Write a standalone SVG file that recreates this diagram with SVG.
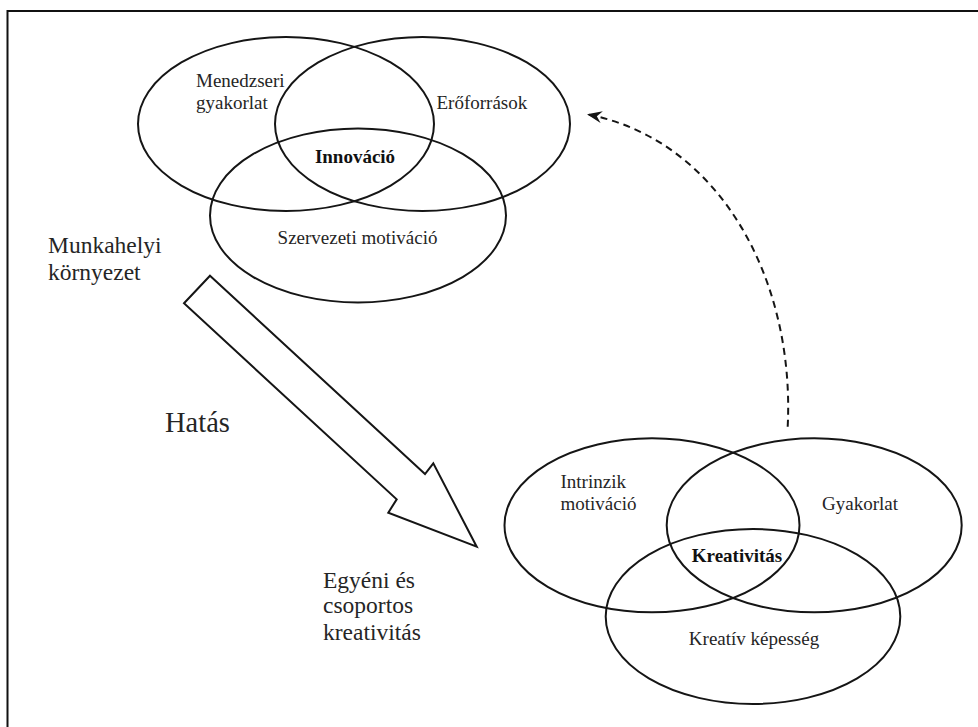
<svg xmlns="http://www.w3.org/2000/svg" width="978" height="727" viewBox="0 0 978 727">
  <style>
    .ring { fill: none; stroke: #151515; stroke-width: 2; }
    .lbl { font-family: "Liberation Serif", "DejaVu Serif", "Times New Roman", serif; fill: #252525; }
    .s19 { font-size: 19px; }
    .s23 { font-size: 23.5px; }
    .b { font-weight: bold; fill: #111; }
  </style>
  <defs>
    <marker id="stealth" viewBox="0 0 15 12" refX="14" refY="6" markerWidth="15" markerHeight="12" markerUnits="userSpaceOnUse" orient="auto">
      <path d="M15,6 L0,0 L5,6 L0,12 Z" fill="#151515"/>
    </marker>
  </defs>

  <rect width="978" height="727" fill="#fff"/>
  <!-- frame: top and left edges only -->
  <path d="M7.5,727 V11 H978" fill="none" stroke="#111" stroke-width="2"/>

  <!-- organisational level: workplace environment -->
  <g id="innovation-venn">
    <ellipse class="ring" cx="286" cy="124" rx="148" ry="87"/>
    <ellipse class="ring" cx="422.5" cy="124" rx="147.5" ry="87"/>
    <ellipse class="ring" cx="358" cy="215.5" rx="148" ry="87"/>
    <text class="lbl s19" font-family="Liberation Serif, serif" x="196" y="87">Menedzseri</text>
    <text class="lbl s19" font-family="Liberation Serif, serif" x="196" y="109">gyakorlat</text>
    <text class="lbl s19" font-family="Liberation Serif, serif" x="436.5" y="109">Erőforrások</text>
    <text class="lbl s19 b" font-family="Liberation Serif, serif" x="355" y="163" text-anchor="middle">Innováció</text>
    <text class="lbl s19" font-family="Liberation Serif, serif" x="357.5" y="244" text-anchor="middle">Szervezeti motiváció</text>
  </g>

  <g id="workplace-label">
    <text class="lbl s23" font-family="Liberation Serif, serif" x="48" y="253">Munkahelyi</text>
    <text class="lbl s23" font-family="Liberation Serif, serif" x="48" y="280">környezet</text>
  </g>

  <!-- individual and group level -->
  <g id="creativity-venn">
    <ellipse class="ring" cx="652" cy="525.3" rx="147.5" ry="87"/>
    <ellipse class="ring" cx="814.2" cy="525.3" rx="147.5" ry="87"/>
    <ellipse class="ring" cx="753" cy="616.5" rx="147.3" ry="87.5"/>
    <text class="lbl s19" font-family="Liberation Serif, serif" x="560.5" y="488">Intrinzik</text>
    <text class="lbl s19" font-family="Liberation Serif, serif" x="560.5" y="510">motiváció</text>
    <text class="lbl s19" font-family="Liberation Serif, serif" x="860" y="510" text-anchor="middle">Gyakorlat</text>
    <text class="lbl s19 b" font-family="Liberation Serif, serif" x="737" y="561.5" text-anchor="middle">Kreativitás</text>
    <text class="lbl s19" font-family="Liberation Serif, serif" x="754" y="645" text-anchor="middle">Kreatív képesség</text>
  </g>

  <g id="individual-label">
    <text class="lbl s23" font-family="Liberation Serif, serif" x="323" y="587.5">Egyéni és</text>
    <text class="lbl s23" font-family="Liberation Serif, serif" x="323" y="613">csoportos</text>
    <text class="lbl s23" font-family="Liberation Serif, serif" x="323" y="640">kreativitás</text>
  </g>

  <g id="connectors">
    <!-- block arrow: influence -->
    <g id="influence-arrow">
      <path d="M210,275.7 L425,474 L433.3,463.3 L476.7,546.7 L388.3,512.7 L396.7,499.3 L184,303.3 Z" fill="#fff" stroke="#151515" stroke-width="2" stroke-linejoin="miter"/>
      <text class="lbl" font-family="Liberation Serif, serif" x="165" y="431.5" style="font-size:28.5px">Hatás</text>
    </g>
    <!-- dashed feedback from creativity to innovation -->
    <path id="feedback" d="M787.7,426.7 C795,280 720,140 588,114.5" fill="none" stroke="#151515" stroke-width="2" stroke-dasharray="7,5" marker-end="url(#stealth)"/>
  </g>
</svg>
